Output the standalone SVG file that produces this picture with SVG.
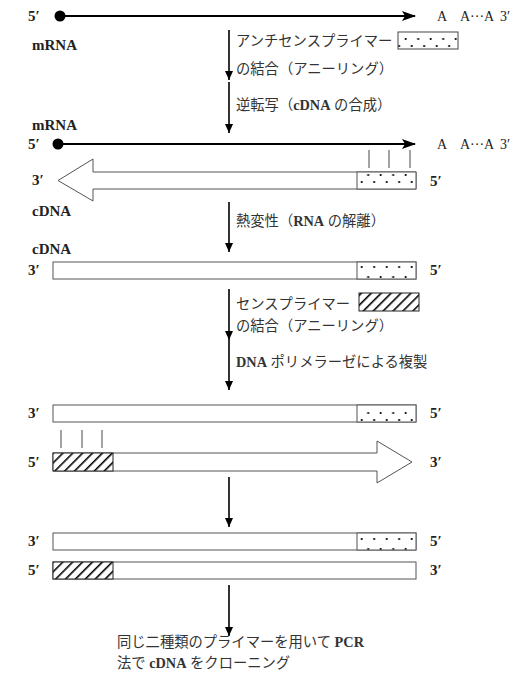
<svg xmlns="http://www.w3.org/2000/svg" width="530" height="695" viewBox="0 0 530 695">
<style>
text{font-family:"Liberation Serif","Noto Sans CJK JP",serif;font-size:14px;fill:#222}
.jp{font-family:"Liberation Serif","Noto Sans CJK JP",serif;font-size:14.3px;fill:#333}
.b{font-weight:bold;font-size:15px}
.jp .b{font-size:14.3px}
.strand{fill:#fff;stroke:#555;stroke-width:1}
.rna{stroke:#000;stroke-width:2;fill:none}
.tick{stroke:#666;stroke-width:1.2}
.conn{stroke:#000;stroke-width:1.6;fill:none}
</style>
<defs>
<pattern id="dots" patternUnits="userSpaceOnUse" x="357" y="0" width="12.5" height="17">
<rect width="12.5" height="17" fill="#fff"/>
<circle cx="4.7" cy="12" r="1.1" fill="#000"/>
<circle cx="11.2" cy="5" r="1.1" fill="#000"/>
</pattern>
<pattern id="hatch" patternUnits="userSpaceOnUse" width="7" height="7" patternTransform="rotate(45)">
<rect width="7" height="7" fill="#fff"/>
<line x1="0" y1="0" x2="0" y2="7" stroke="#000" stroke-width="3.2"/>
</pattern>
<marker id="big" markerWidth="14" markerHeight="10" refX="13" refY="5" orient="auto" markerUnits="userSpaceOnUse">
<path d="M0,0 L14,5 L0,10 L3,5 Z" fill="#000"/>
</marker>
<marker id="small" markerWidth="9" markerHeight="8" refX="9" refY="4" orient="auto" markerUnits="userSpaceOnUse">
<path d="M0,0 L9,4 L0,8 Z" fill="#000"/>
</marker>
</defs>

<g id="mrna1">
<text x="28" y="21" class="b">5′</text>
<circle cx="60" cy="16" r="5.5" fill="#000"/>
<line x1="60" y1="16" x2="415" y2="16" class="rna" marker-end="url(#big)"/>
<text x="437" y="21">A</text><text x="460" y="21">A···A</text><text x="500" y="21">3′</text>
<text x="32" y="50" class="b">mRNA</text>
</g>

<g id="step1">
<text x="236" y="46" class="jp">アンチセンスプライマー</text>
<rect x="398" y="32" width="60" height="17" fill="url(#dots)" stroke="#444"/>
<text x="236" y="74" class="jp">の結合（アニーリング）</text>
</g>

<g id="step2">
<text x="236" y="110" class="jp">逆転写（<tspan class="b">cDNA</tspan> の合成）</text>
</g>

<g id="hybrid">
<text x="32" y="130" class="b">mRNA</text>
<text x="28" y="149" class="b">5′</text>
<circle cx="58" cy="144" r="5.5" fill="#000"/>
<line x1="58" y1="144" x2="415" y2="144" class="rna" marker-end="url(#big)"/>
<text x="437" y="149">A</text><text x="460" y="149">A···A</text><text x="500" y="149">3′</text>
<line x1="369" y1="150" x2="369" y2="168" class="tick"/>
<line x1="389" y1="150" x2="389" y2="168" class="tick"/>
<line x1="410" y1="150" x2="410" y2="168" class="tick"/>
<path d="M416,172 L93,172 L93,159 L58,180.5 L93,201 L93,189 L416,189 Z" class="strand"/>
<rect x="357" y="172" width="59" height="17" fill="url(#dots)" stroke="#555"/>
<text x="32" y="185" class="b">3′</text>
<text x="430" y="186" class="b">5′</text>
<text x="32" y="216" class="b">cDNA</text>
</g>

<g id="step3">
<text x="236" y="226" class="jp">熱変性（<tspan class="b">RNA</tspan> の解離）</text>
</g>

<g id="cdna">
<text x="32" y="254" class="b">cDNA</text>
<rect x="53" y="262" width="363" height="17" class="strand"/>
<rect x="357" y="262" width="59" height="17" fill="url(#dots)" stroke="#555"/>
<text x="28" y="275" class="b">3′</text>
<text x="430" y="275" class="b">5′</text>
</g>

<g id="step4">
<text x="236" y="309" class="jp">センスプライマー</text>
<rect x="359" y="293" width="60" height="18" fill="url(#hatch)" stroke="#222"/>
<text x="236" y="331" class="jp">の結合（アニーリング）</text>
</g>

<g id="step5">
<text x="236" y="367" class="jp"><tspan class="b">DNA</tspan> ポリメラーゼによる複製</text>
</g>

<g id="replication">
<rect x="53" y="405" width="363" height="17" class="strand"/>
<rect x="357" y="405" width="59" height="17" fill="url(#dots)" stroke="#555"/>
<text x="28" y="418" class="b">3′</text>
<text x="430" y="418" class="b">5′</text>
<line x1="61" y1="430" x2="61" y2="448" class="tick"/>
<line x1="82" y1="430" x2="82" y2="448" class="tick"/>
<line x1="102" y1="430" x2="102" y2="448" class="tick"/>
<path d="M53,453 L377,453 L377,441 L412,462 L377,483 L377,471 L53,471 Z" class="strand"/>
<rect x="53" y="453" width="60" height="18" fill="url(#hatch)" stroke="#222"/>
<text x="28" y="467" class="b">5′</text>
<text x="430" y="467" class="b">3′</text>
</g>

<g id="double">
<rect x="53" y="533" width="363" height="17" class="strand"/>
<rect x="357" y="533" width="59" height="17" fill="url(#dots)" stroke="#555"/>
<text x="28" y="546" class="b">3′</text>
<text x="430" y="546" class="b">5′</text>
<rect x="53" y="562" width="363" height="17" class="strand"/>
<rect x="53" y="562" width="60" height="17" fill="url(#hatch)" stroke="#222"/>
<text x="28" y="575" class="b">5′</text>
<text x="430" y="575" class="b">3′</text>
</g>

<g id="final">
<text x="117" y="647" class="jp">同じ二種類のプライマーを用いて <tspan class="b">PCR</tspan></text>
<text x="117" y="668" class="jp">法で <tspan class="b">cDNA</tspan> をクローニング</text>
</g>

<g id="connectors">
<line x1="229" y1="30" x2="229" y2="80" class="conn" marker-end="url(#small)"/>
<line x1="229" y1="82" x2="229" y2="133" class="conn" marker-end="url(#small)"/>
<line x1="229" y1="202" x2="229" y2="252" class="conn" marker-end="url(#small)"/>
<line x1="229" y1="289" x2="229" y2="340" class="conn" marker-end="url(#small)"/>
<line x1="229" y1="340" x2="229" y2="390" class="conn" marker-end="url(#small)"/>
<line x1="229" y1="477" x2="229" y2="527" class="conn" marker-end="url(#small)"/>
<line x1="229" y1="585" x2="229" y2="636" class="conn" marker-end="url(#small)"/>
</g>
</svg>
